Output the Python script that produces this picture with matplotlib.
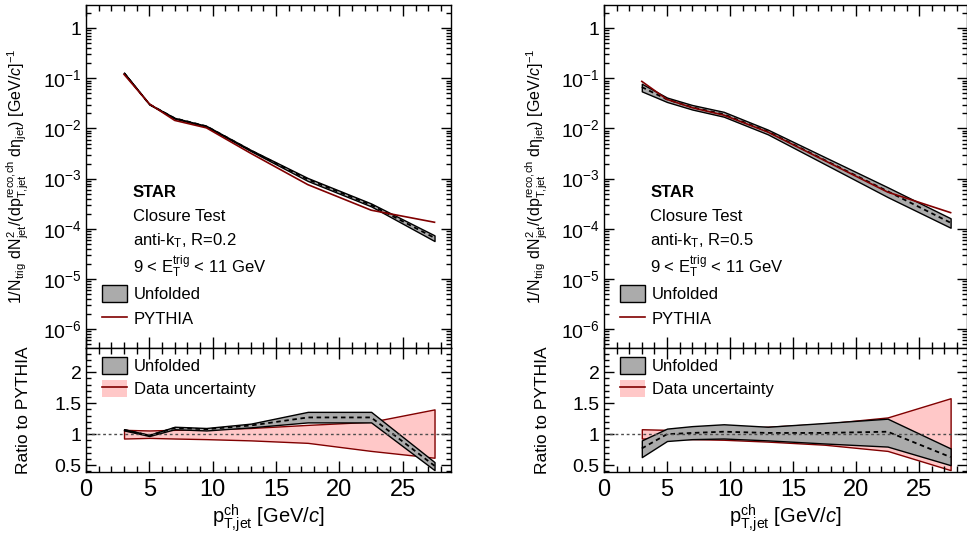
"""
STAR closure test: unfolded charged-jet spectra vs PYTHIA, R=0.2 and R=0.5,
with ratio panels underneath.
"""
import numpy as np
import matplotlib
matplotlib.use('Agg')
import matplotlib.pyplot as plt
from matplotlib.ticker import MultipleLocator, LogLocator, NullFormatter, FuncFormatter
from matplotlib.patches import Patch
from matplotlib.lines import Line2D

plt.rcParams['font.family'] = ['Liberation Sans', 'DejaVu Sans']
plt.rcParams['mathtext.fontset'] = 'custom'
plt.rcParams['mathtext.rm'] = 'Liberation Sans'
plt.rcParams['mathtext.it'] = 'Liberation Sans:italic'
plt.rcParams['mathtext.bf'] = 'Liberation Sans:bold'

### Bin centres [GeV/c]
pt = [3, 5, 7, 9.5, 13, 17.5, 22.5, 27.5]

### R=0.2 spectra
pythia_r02 = [0.12, 0.031, 0.0145, 0.0103, 0.0032, 7.6e-4, 2.35e-4, 1.35e-4]
unf_r02 = [0.128, 0.0304, 0.016, 0.0111, 0.00365, 9.65e-4, 2.98e-4, 6.6e-5]
unf_lo_r02 = [0.127, 0.0301, 0.0157, 0.0109, 0.00355, 9.0e-4, 2.8e-4, 5.7e-5]
unf_hi_r02 = [0.130, 0.0307, 0.0163, 0.0113, 0.00375, 1.03e-3, 3.2e-4, 7.4e-5]
### R=0.2 ratios to PYTHIA
rat_r02 = [1.07, 0.98, 1.10, 1.08, 1.14, 1.27, 1.27, 0.49]
rat_lo_r02 = [1.06, 0.97, 1.08, 1.06, 1.11, 1.19, 1.19, 0.42]
rat_hi_r02 = [1.08, 0.99, 1.12, 1.10, 1.17, 1.36, 1.36, 0.55]
dat_lo_r02 = [0.93, 0.94, 0.93, 0.92, 0.90, 0.86, 0.73, 0.62]
dat_hi_r02 = [1.07, 1.06, 1.07, 1.08, 1.10, 1.15, 1.20, 1.40]

### R=0.5 spectra
pythia_r05 = [0.087, 0.038, 0.026, 0.0185, 0.0085, 0.0023, 5.4e-4, 2.1e-4]
unf_r05 = [0.067, 0.038, 0.0265, 0.0192, 0.0087, 0.00235, 5.6e-4, 1.32e-4]
unf_lo_r05 = [0.055, 0.0338, 0.0239, 0.0172, 0.00765, 0.00196, 4.3e-4, 1.05e-4]
unf_hi_r05 = [0.078, 0.0414, 0.0294, 0.0215, 0.0095, 0.00271, 6.75e-4, 1.62e-4]
### R=0.5 ratios to PYTHIA
rat_r05 = [0.77, 1.00, 1.02, 1.04, 1.02, 1.02, 1.04, 0.63]
rat_lo_r05 = [0.63, 0.89, 0.92, 0.93, 0.90, 0.85, 0.80, 0.50]
rat_hi_r05 = [0.90, 1.09, 1.13, 1.16, 1.12, 1.18, 1.25, 0.77]
dat_lo_r05 = [0.93, 0.93, 0.92, 0.91, 0.88, 0.83, 0.73, 0.42]
dat_hi_r05 = [1.08, 1.07, 1.08, 1.09, 1.12, 1.17, 1.27, 1.58]

GRAY = '#ababab'
PINK = '#ffc8c8'
DRED = '#800000'


def main():
    fig = plt.figure(figsize=(9.67, 5.41), dpi=100)

    ##-- axes in figure fraction (pixel-measured)
    top_b, top_h = 193/541, 343/541
    bot_b, bot_h = 69/541, 124/541
    for x0, w, R, spec, rat in [
            (86/967, 365/967, '0.2',
             (pythia_r02, unf_r02, unf_lo_r02, unf_hi_r02),
             (rat_r02, rat_lo_r02, rat_hi_r02, dat_lo_r02, dat_hi_r02)),
            (604/967, 363/967, '0.5',
             (pythia_r05, unf_r05, unf_lo_r05, unf_hi_r05),
             (rat_r05, rat_lo_r05, rat_hi_r05, dat_lo_r05, dat_hi_r05))]:
        ax1 = fig.add_axes([x0, top_b, w, top_h])
        ax2 = fig.add_axes([x0, bot_b, w, bot_h])
        spectrum_plot(ax1, spec, R)
        ratio_plot(ax2, rat)

    fig.savefig('out.png', dpi=100)
    return


def style_axis(ax):
    ax.tick_params(which='both', direction='in', top=True, right=True, width=1)
    ax.tick_params(axis='x', which='major', length=8, labelsize=17, pad=5)
    ax.tick_params(axis='x', which='minor', length=4)
    ax.tick_params(axis='y', which='major', length=7, labelsize=14, pad=3)
    ax.tick_params(axis='y', which='minor', length=3.5)
    ax.xaxis.set_major_locator(MultipleLocator(5))
    ax.xaxis.set_minor_locator(MultipleLocator(1))
    for sp in ax.spines.values():
        sp.set_linewidth(1)


def spectrum_plot(ax, spec, R):
    pyth, unf, lo, hi = spec
    ax.fill_between(pt, lo, hi, facecolor=GRAY, edgecolor='k', lw=1)
    ax.plot(pt, unf, c='k', lw=1.3, ls=(0, (2.5, 2)))
    ax.plot(pt, pyth, c=DRED, lw=1.2)

    ax.set_yscale('log')
    ax.set_xlim(0, 28.8)
    ax.set_ylim(4.2e-7, 2.9)
    style_axis(ax)
    ax.yaxis.set_major_locator(LogLocator(base=10, numticks=20))
    ax.yaxis.set_minor_locator(LogLocator(base=10, subs=np.arange(2, 10), numticks=20))
    ax.yaxis.set_minor_formatter(NullFormatter())
    ax.yaxis.set_major_formatter(FuncFormatter(
        lambda v, p: '1' if abs(v-1) < 1e-9 else r'$10^{%d}$' % round(np.log10(v))))
    ax.tick_params(axis='x', labelbottom=False)

    ylab = (r'1/N$_{\rm trig}$ dN$^{2}_{\rm jet}$/(dp$^{\rm reco{,}ch}_{\rm T{,}jet}$ '
            r'd$\mathrm{\eta}_{\rm jet}$) [GeV/$c$]$^{-1}$')
    ax.set_ylabel(ylab, fontsize=11.5)
    ax.yaxis.set_label_coords(-0.15, 0.5)

    ##-- labels
    tx = 0.128
    ax.text(tx, 0.452, 'STAR', transform=ax.transAxes, fontsize=12, fontweight='bold', va='center')
    ax.text(tx, 0.382, 'Closure Test', transform=ax.transAxes, fontsize=12, va='center')
    ax.text(tx, 0.312, r'anti-k$_{\rm T}$, R=%s' % R, transform=ax.transAxes, fontsize=12, va='center')
    ax.text(tx, 0.235, r'9 < E$_{\rm T}^{\rm trig}$ < 11 GeV', transform=ax.transAxes, fontsize=12, va='center')

    h1 = Patch(facecolor=GRAY, edgecolor='k', lw=1)
    h2 = Line2D([], [], c=DRED, lw=1.2)
    ax.legend([h1, h2], ['Unfolded', 'PYTHIA'], loc='upper left', bbox_to_anchor=(0.045, 0.183),
              frameon=False, fontsize=12, handlelength=1.5, handleheight=1.2,
              handletextpad=0.4, labelspacing=0.45, borderpad=0, borderaxespad=0)


def ratio_plot(ax, rat):
    ctr, lo, hi, dlo, dhi = rat
    ax.fill_between(pt, dlo, dhi, facecolor=PINK, edgecolor=DRED, lw=1)
    ax.fill_between(pt, lo, hi, facecolor=GRAY, edgecolor='k', lw=1)
    ax.plot(pt, ctr, c='k', lw=1.3, ls=(0, (2.5, 2)))
    ax.axhline(1, c='0.3', lw=1, ls=(0, (2, 2)))

    ax.set_xlim(0, 28.8)
    ax.set_ylim(0.39, 2.39)
    style_axis(ax)
    ax.yaxis.set_major_locator(MultipleLocator(0.5))
    ax.yaxis.set_minor_locator(MultipleLocator(0.1))
    ax.yaxis.set_major_formatter(FuncFormatter(lambda v, p: '{:g}'.format(v)))

    ax.set_ylabel('Ratio to PYTHIA', fontsize=12.5)
    ax.yaxis.set_label_coords(-0.15, 0.5)
    ax.set_xlabel(r'p$^{\rm ch}_{\rm T{,}jet}$ [GeV/$c$]', fontsize=14.5, labelpad=1)

    h1 = Patch(facecolor=GRAY, edgecolor='k', lw=1)
    h2 = (Patch(facecolor=PINK, edgecolor='none'), Line2D([], [], c=DRED, lw=1.2))
    ax.legend([h1, h2], ['Unfolded', 'Data uncertainty'], loc='upper left',
              bbox_to_anchor=(0.045, 0.93), frameon=False, fontsize=12,
              handlelength=1.5, handleheight=1.2, handletextpad=0.4,
              labelspacing=0.35, borderpad=0, borderaxespad=0)


if __name__ == "__main__":
    main()
